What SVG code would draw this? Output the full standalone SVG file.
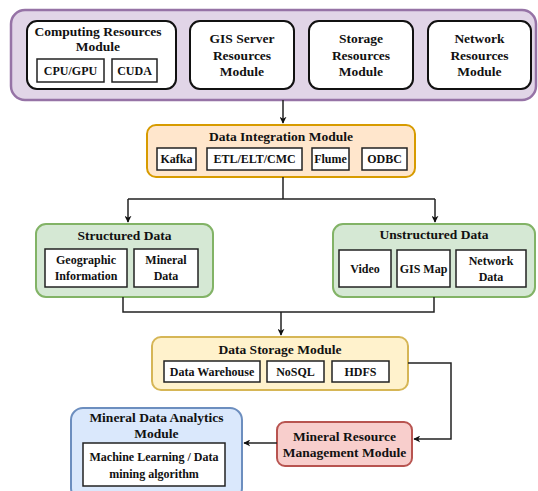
<svg xmlns="http://www.w3.org/2000/svg" width="538" height="491" viewBox="0 0 538 491" font-family="'Liberation Serif', 'DejaVu Serif', serif" font-weight="bold">
<defs>
<marker id="ah" viewBox="0 0 10 10" refX="9" refY="5" markerWidth="7" markerHeight="7" orient="auto" markerUnits="userSpaceOnUse">
<path d="M0,0 L10,5 L0,10 L3,5 Z" fill="#111"/>
</marker>
<style>
text{font-family:'Liberation Serif','DejaVu Serif',serif;font-weight:700;fill:#111;text-anchor:middle;dominant-baseline:central}
.t{font-size:13.5px}
.s{font-size:12px}
.w{fill:#fff;stroke:#111;stroke-width:2}
.sub{fill:#fff;stroke:#222;stroke-width:1.5}
.c{fill:none;stroke:#222;stroke-width:1.5}
</style>
</defs>
<rect width="538" height="491" fill="#fff"/>
<g id="resources">
<rect x="11" y="10" width="525" height="90" rx="14" fill="#e1d5e7" stroke="#9673a6" stroke-width="2.5"/>
</g>
<g id="computing">
<rect class="w" x="27" y="21" width="149" height="68" rx="10"/>
<text class="t" x="98" y="31">Computing Resources</text>
<text class="t" x="98" y="46">Module</text>
<rect class="sub" x="37" y="59" width="67" height="23"/>
<text class="s" x="70.5" y="70.5">CPU/GPU</text>
<rect class="sub" x="112" y="59" width="45" height="23"/>
<text class="s" x="134.5" y="70.5">CUDA</text>
</g>
<g id="gis-server">
<rect class="w" x="190" y="21" width="104" height="68" rx="10"/>
<text class="t" x="242" y="38">GIS Server</text>
<text class="t" x="242" y="55">Resources</text>
<text class="t" x="242" y="71">Module</text>
</g>
<g id="storage-res">
<rect class="w" x="309" y="21" width="104" height="68" rx="10"/>
<text class="t" x="361" y="38">Storage</text>
<text class="t" x="361" y="55">Resources</text>
<text class="t" x="361" y="71">Module</text>
</g>
<g id="network-res">
<rect class="w" x="428" y="21" width="103" height="68" rx="10"/>
<text class="t" x="479.5" y="38">Network</text>
<text class="t" x="479.5" y="55">Resources</text>
<text class="t" x="479.5" y="71">Module</text>
</g>
<g id="integration">
<rect x="147" y="125" width="268" height="52" rx="9" fill="#ffe6cc" stroke="#d79b00" stroke-width="2"/>
<text class="t" x="281" y="136">Data Integration Module</text>
<rect class="sub" x="157" y="148" width="39" height="22"/>
<text class="s" x="176.5" y="159">Kafka</text>
<rect class="sub" x="207" y="148" width="95" height="22"/>
<text class="s" x="254.5" y="159">ETL/ELT/CMC</text>
<rect class="sub" x="312" y="148" width="37" height="22"/>
<text class="s" x="330.5" y="159">Flume</text>
<rect class="sub" x="362" y="148" width="45" height="22"/>
<text class="s" x="384.5" y="159">ODBC</text>
</g>
<g id="structured">
<rect x="36" y="224" width="177" height="73" rx="10" fill="#d5e8d4" stroke="#82b366" stroke-width="2"/>
<text class="t" x="124.5" y="235">Structured Data</text>
<rect class="sub" x="45" y="249" width="82" height="38"/>
<text class="s" x="86" y="260">Geographic</text>
<text class="s" x="86" y="276">Information</text>
<rect class="sub" x="134" y="249" width="64" height="38"/>
<text class="s" x="166" y="260">Mineral</text>
<text class="s" x="166" y="276">Data</text>
</g>
<g id="unstructured">
<rect x="333" y="224" width="202" height="73" rx="10" fill="#d5e8d4" stroke="#82b366" stroke-width="2"/>
<text class="t" x="434" y="234">Unstructured Data</text>
<rect class="sub" x="339" y="250" width="52" height="37"/>
<text class="s" x="365" y="269">Video</text>
<rect class="sub" x="397" y="250" width="53" height="37"/>
<text class="s" x="423.5" y="269">GIS Map</text>
<rect class="sub" x="456" y="250" width="70" height="37"/>
<text class="s" x="491" y="261">Network</text>
<text class="s" x="491" y="277">Data</text>
</g>
<g id="data-storage">
<rect x="152" y="337" width="256" height="53" rx="9" fill="#fff2cc" stroke="#d6b656" stroke-width="2"/>
<text class="t" x="280" y="349">Data Storage Module</text>
<rect class="sub" x="164" y="361" width="96" height="21"/>
<text class="s" x="212" y="371.5">Data Warehouse</text>
<rect class="sub" x="267" y="361" width="57" height="21"/>
<text class="s" x="295.5" y="371.5">NoSQL</text>
<rect class="sub" x="332" y="361" width="57" height="21"/>
<text class="s" x="360.5" y="371.5">HDFS</text>
</g>
<g id="management">
<rect x="277" y="422" width="135" height="44" rx="8" fill="#f8cecc" stroke="#b85450" stroke-width="2"/>
<text class="t" x="344.5" y="436">Mineral Resource</text>
<text class="t" x="344.5" y="452">Management Module</text>
</g>
<g id="analytics">
<rect x="71" y="408" width="171" height="92" rx="12" fill="#dae8fc" stroke="#6c8ebf" stroke-width="2"/>
<text class="t" x="156.5" y="417">Mineral Data Analytics</text>
<text class="t" x="156.5" y="433">Module</text>
<rect class="sub" x="83" y="443" width="142" height="43"/>
<text class="s" x="154" y="457">Machine Learning / Data</text>
<text class="s" x="154" y="474">mining algorithm</text>
</g>
<g id="connectors">
<path class="c" d="M283,100 V123" marker-end="url(#ah)"/>
<path class="c" d="M283,177 V199 M128,199 H435"/>
<path class="c" d="M128,199 V222" marker-end="url(#ah)"/>
<path class="c" d="M435,199 V222" marker-end="url(#ah)"/>
<path class="c" d="M123,297 V312 H434 V297"/>
<path class="c" d="M281,312 V335" marker-end="url(#ah)"/>
<path class="c" d="M408,363 H451 V439 H414" marker-end="url(#ah)"/>
<path class="c" d="M277,443 H244" marker-end="url(#ah)"/>
</g>
</svg>
